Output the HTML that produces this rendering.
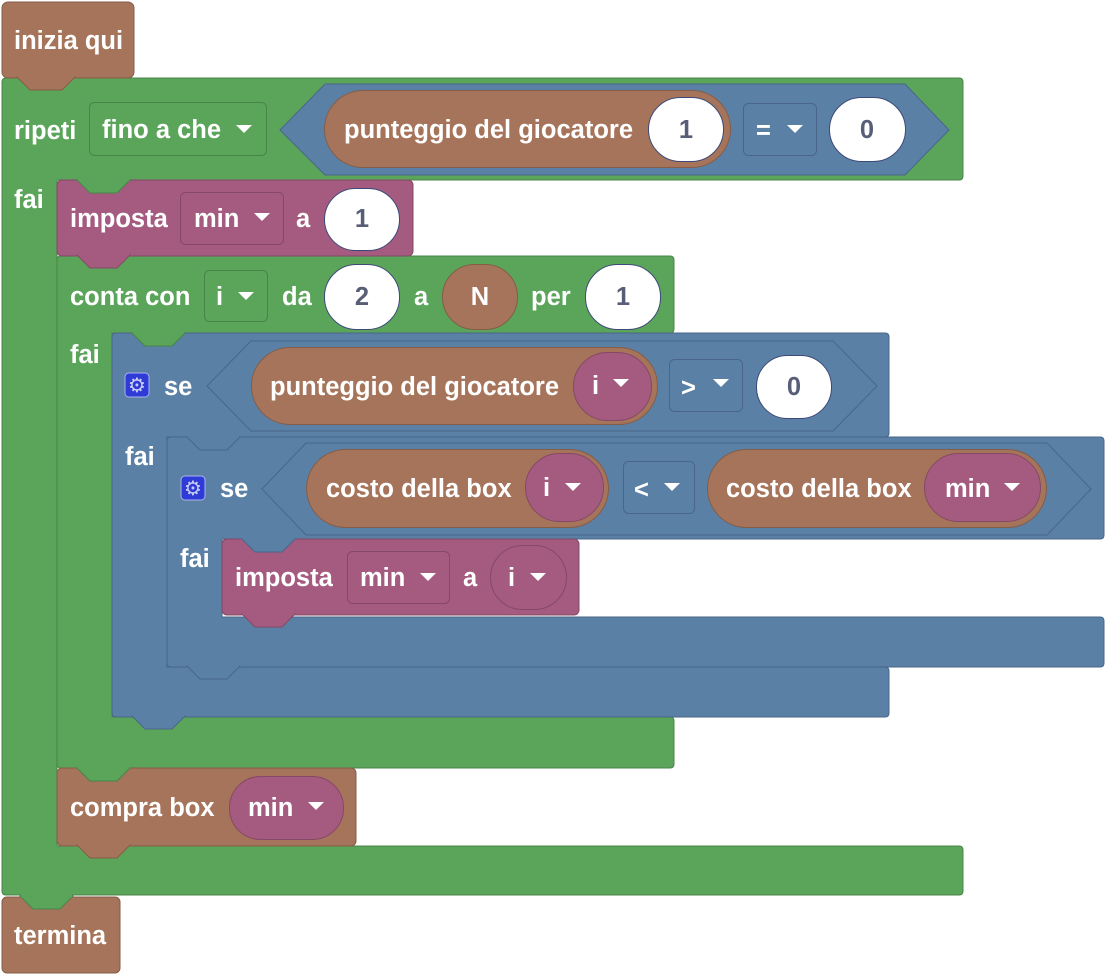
<!DOCTYPE html>
<html><head><meta charset="utf-8"><style>
html,body{margin:0;padding:0;background:#fff;width:1106px;height:975px;overflow:hidden}
svg text{font-family:"Liberation Sans",Arial,sans-serif;font-weight:bold;font-size:25.5px;fill:#fff;dominant-baseline:central}
.dk{fill:#575e75}
</style></head><body>
<svg width="1106" height="975" viewBox="0 0 1106 975" xmlns="http://www.w3.org/2000/svg">
<defs>
<path id="tri" d="M-8,-4 L8,-4 L0,4 Z" fill="#fff"/>
</defs>

<path d="M6,78 H959 Q963,78 963,82 V176 Q963,180 959,180 H57 V846 H959 Q963,846 963,850 V891 Q963,895 959,895 H6 Q2,895 2,891 V82 Q2,78 6,78 Z" fill="#5ba55b" stroke="#498449" stroke-width="1"/>
<rect x="2" y="2" width="132" height="76" rx="6" fill="#a5745a" stroke="#845d48"/>
<polygon points="17,77 30,90 62,90 75,77" fill="#a5745a" stroke="#845d48" stroke-linejoin="round"/>
<line x1="18" y1="77" x2="74" y2="77" stroke="#a5745a" stroke-width="2"/>
<text x="14" y="41">inizia qui</text>

<text x="14" y="131">ripeti</text>
<rect x="89.5" y="102.5" width="177" height="53" rx="5" fill="#5ba55b" stroke="#498449"/>
<text x="102" y="130">fino a che</text>
<use href="#tri" x="244" y="129"/>
<polygon points="280,130 325,84 905,84 949,130 905,175 325,175" fill="#5b80a5" stroke="#49668a"/>
<rect x="324.5" y="90.5" width="406" height="77" rx="38.5" fill="#a5745a" stroke="#845d48"/>
<text x="344" y="130">punteggio del giocatore</text>
<rect x="648.5" y="97.5" width="75" height="64" rx="32" fill="#fff" stroke="#3d4a78"/>
<text x="686" y="130" class="dk" text-anchor="middle">1</text>
<rect x="743.5" y="103.5" width="73" height="52" rx="5" fill="#5b80a5" stroke="#49668a"/>
<text x="756" y="131">=</text>
<use href="#tri" x="795" y="129"/>
<rect x="829.5" y="97.5" width="76" height="64" rx="32" fill="#fff" stroke="#3d4a78"/>
<text x="867" y="130" class="dk" text-anchor="middle">0</text>
<text x="14" y="200">fai</text>

<path d="M61,256 H670 Q674,256 674,260 V329 Q674,333 670,333 H112 V717 H670 Q674,717 674,721 V764 Q674,768 670,768 H61 Q57,768 57,764 V260 Q57,256 61,256 Z" fill="#5ba55b" stroke="#498449"/>
<rect x="57" y="180" width="356" height="76" rx="5" fill="#a55b80" stroke="#844966"/>
<polygon points="77,180 90,193 117,193 130,180" fill="#5ba55b" stroke="#498449" stroke-linejoin="round"/>
<line x1="78" y1="180" x2="129" y2="180" stroke="#5ba55b" stroke-width="2"/>
<polygon points="77,255 90,268 117,268 130,255" fill="#a55b80" stroke="#844966" stroke-linejoin="round"/>
<line x1="78" y1="255" x2="129" y2="255" stroke="#a55b80" stroke-width="2"/>
<text x="70" y="219">imposta</text>
<rect x="180.5" y="192.5" width="103" height="52" rx="5" fill="#a55b80" stroke="#844966"/>
<text x="194" y="219">min</text>
<use href="#tri" x="262" y="217"/>
<text x="296" y="219">a</text>
<rect x="324.5" y="188.5" width="75" height="62" rx="31" fill="#fff" stroke="#3d4a78"/>
<text x="362" y="219" class="dk" text-anchor="middle">1</text>

<text x="70" y="297">conta con</text>
<rect x="204.5" y="270.5" width="63" height="51" rx="5" fill="#5ba55b" stroke="#498449"/>
<text x="216" y="297">i</text>
<use href="#tri" x="246" y="296"/>
<text x="282" y="297">da</text>
<rect x="324.5" y="264.5" width="75" height="65" rx="32" fill="#fff" stroke="#3d4a78"/>
<text x="362" y="297" class="dk" text-anchor="middle">2</text>
<text x="414" y="297">a</text>
<rect x="442.5" y="264.5" width="75" height="65" rx="32" fill="#a5745a" stroke="#845d48"/>
<text x="480" y="297" text-anchor="middle">N</text>
<text x="531" y="297">per</text>
<rect x="585.5" y="264.5" width="75" height="65" rx="32" fill="#fff" stroke="#3d4a78"/>
<text x="623" y="297" class="dk" text-anchor="middle">1</text>
<text x="70" y="355">fai</text>

<path d="M116,333 H885 Q889,333 889,337 V433 Q889,437 885,437 H167 V667 H885 Q889,667 889,671 V713 Q889,717 885,717 H116 Q112,717 112,713 V337 Q112,333 116,333 Z" fill="#5b80a5" stroke="#49668a"/>
<polygon points="132,333 145,346 172,346 185,333" fill="#5ba55b" stroke="#498449" stroke-linejoin="round"/>
<line x1="133" y1="333" x2="184" y2="333" stroke="#5ba55b" stroke-width="2"/>
<rect x="125" y="373" width="24" height="24" rx="4" fill="#2e3bd6" stroke="#aab4ee"/>
<text x="137" y="385" text-anchor="middle" style="font-family:'DejaVu Sans',sans-serif;font-size:20px;font-weight:normal;fill:#c8cdf5">⚙</text>
<text x="164" y="387">se</text>
<polygon points="207,386 251,341 833,341 877,386 833,431 251,431" fill="#5b80a5" stroke="#49668a"/>
<rect x="251.5" y="347.5" width="406" height="77" rx="38.5" fill="#a5745a" stroke="#845d48"/>
<text x="270" y="387">punteggio del giocatore</text>
<rect x="573.5" y="352.5" width="78" height="68" rx="34" fill="#a55b80" stroke="#844966"/>
<text x="592" y="386">i</text>
<use href="#tri" x="621" y="383"/>
<rect x="669.5" y="359.5" width="73" height="52" rx="5" fill="#5b80a5" stroke="#49668a"/>
<text x="681" y="388">&gt;</text>
<use href="#tri" x="721" y="383"/>
<rect x="756.5" y="355.5" width="75" height="63" rx="31" fill="#fff" stroke="#3d4a78"/>
<text x="794" y="387" class="dk" text-anchor="middle">0</text>
<text x="125" y="457">fai</text>

<path d="M171,437 H1100 Q1104,437 1104,441 V535 Q1104,539 1100,539 H222 V617 H1100 Q1104,617 1104,621 V663 Q1104,667 1100,667 H171 Q167,667 167,663 V441 Q167,437 171,437 Z" fill="#5b80a5" stroke="#49668a"/>
<polygon points="187,437 200,450 227,450 240,437" fill="#5b80a5" stroke="#49668a" stroke-linejoin="round"/>
<line x1="188" y1="437" x2="239" y2="437" stroke="#5b80a5" stroke-width="2"/>
<rect x="181" y="476" width="24" height="24" rx="4" fill="#2e3bd6" stroke="#aab4ee"/>
<text x="193" y="488" text-anchor="middle" style="font-family:'DejaVu Sans',sans-serif;font-size:20px;font-weight:normal;fill:#c8cdf5">⚙</text>
<text x="220" y="489">se</text>
<polygon points="262,489 306,443 1047,443 1091,489 1047,535 306,535" fill="#5b80a5" stroke="#49668a"/>
<rect x="306.5" y="449.5" width="302" height="78" rx="39" fill="#a5745a" stroke="#845d48"/>
<text x="326" y="489">costo della box</text>
<rect x="525.5" y="453.5" width="78" height="68" rx="34" fill="#a55b80" stroke="#844966"/>
<text x="543" y="488">i</text>
<use href="#tri" x="573" y="487"/>
<rect x="623.5" y="461.5" width="71" height="52" rx="5" fill="#5b80a5" stroke="#49668a"/>
<text x="634" y="490">&lt;</text>
<use href="#tri" x="672" y="487"/>
<rect x="707.5" y="449.5" width="339" height="78" rx="39" fill="#a5745a" stroke="#845d48"/>
<text x="726" y="489">costo della box</text>
<rect x="924.5" y="453.5" width="116" height="68" rx="34" fill="#a55b80" stroke="#844966"/>
<text x="945" y="489">min</text>
<use href="#tri" x="1012" y="487"/>
<text x="180" y="559">fai</text>

<rect x="222" y="539" width="357" height="76" rx="5" fill="#a55b80" stroke="#844966"/>
<polygon points="242,539 255,552 282,552 295,539" fill="#5b80a5" stroke="#49668a" stroke-linejoin="round"/>
<line x1="243" y1="539" x2="294" y2="539" stroke="#5b80a5" stroke-width="2"/>
<polygon points="242,614 255,627 282,627 295,614" fill="#a55b80" stroke="#844966" stroke-linejoin="round"/>
<line x1="243" y1="614" x2="294" y2="614" stroke="#a55b80" stroke-width="2"/>
<text x="235" y="578">imposta</text>
<rect x="347.5" y="551.5" width="102" height="52" rx="5" fill="#a55b80" stroke="#844966"/>
<text x="360" y="578">min</text>
<use href="#tri" x="428" y="577"/>
<text x="463" y="578">a</text>
<rect x="490.5" y="545.5" width="76" height="64" rx="32" fill="#a55b80" stroke="#844966"/>
<text x="508" y="578">i</text>
<use href="#tri" x="538" y="577"/>

<polygon points="187,666 200,679 227,679 240,666" fill="#5b80a5" stroke="#49668a" stroke-linejoin="round"/>
<line x1="188" y1="666" x2="239" y2="666" stroke="#5b80a5" stroke-width="2"/>
<polygon points="132,716 145,729 172,729 185,716" fill="#5b80a5" stroke="#49668a" stroke-linejoin="round"/>
<line x1="133" y1="716" x2="184" y2="716" stroke="#5b80a5" stroke-width="2"/>

<rect x="57" y="768" width="299" height="78" rx="5" fill="#a5745a" stroke="#845d48"/>
<polygon points="77,768 90,781 117,781 130,768" fill="#5ba55b" stroke="#498449" stroke-linejoin="round"/>
<line x1="78" y1="768" x2="129" y2="768" stroke="#5ba55b" stroke-width="2"/>
<polygon points="77,845 90,858 117,858 130,845" fill="#a5745a" stroke="#845d48" stroke-linejoin="round"/>
<line x1="78" y1="845" x2="129" y2="845" stroke="#a5745a" stroke-width="2"/>
<text x="70" y="808">compra box</text>
<rect x="229.5" y="776.5" width="114" height="63" rx="31" fill="#a55b80" stroke="#844966"/>
<text x="248" y="808">min</text>
<use href="#tri" x="316" y="806"/>

<rect x="2" y="897" width="118" height="76" rx="5" fill="#a5745a" stroke="#845d48"/>
<polygon points="20,896 33,909 60,909 73,896" fill="#5ba55b" stroke="#498449" stroke-linejoin="round"/>
<line x1="21" y1="896" x2="72" y2="896" stroke="#5ba55b" stroke-width="3"/>
<text x="14" y="936">termina</text>
</svg>
</body></html>
